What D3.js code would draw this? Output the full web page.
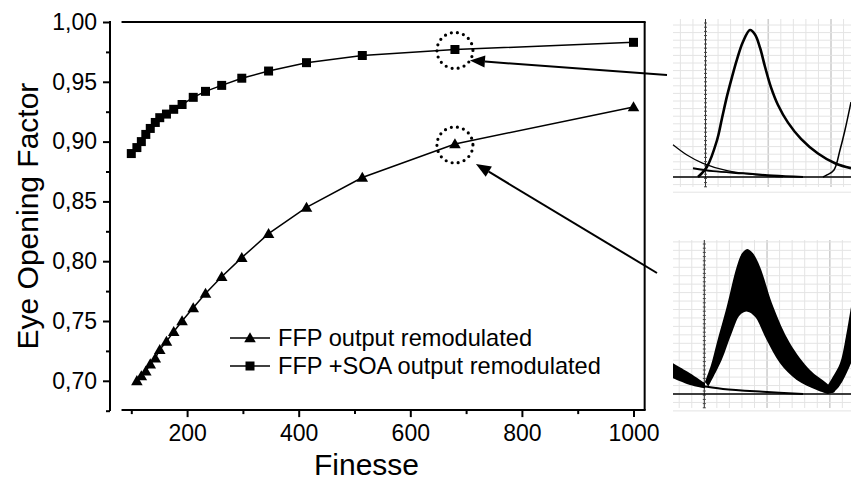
<!DOCTYPE html>
<html><head><meta charset="utf-8">
<script src="https://cdn.jsdelivr.net/npm/d3@7"></script>
<style>
body{margin:0;background:#fff}
svg{display:block}
text{font-family:Arial,"Liberation Sans",Helvetica,sans-serif;fill:#000}
</style>
</head><body>
<svg id="chart" width="851" height="482"></svg>
<script>
// ---------- data ----------
const finesseFFP = [110,118,126,134,143,151,163,176,191,211,233,262,298,346,414,514,680,1000];
const eyeFFP     = [0.700,0.704,0.708,0.714,0.719,0.726,0.733,0.741,0.750,0.761,0.773,0.787,0.803,0.823,0.845,0.870,0.898,0.929];
const finesseSOA = [100,110,118,126,134,143,151,163,176,191,211,233,262,298,346,414,514,680,1000];
const eyeSOA     = [0.890,0.895,0.900,0.906,0.911,0.916,0.920,0.923,0.927,0.931,0.937,0.942,0.947,0.953,0.959,0.966,0.972,0.977,0.983];
const xTicks = [200,400,600,800,1000];
const xMinorTicks = [100,300,500,700,900];
const yTicks = [0.70,0.75,0.80,0.85,0.90,0.95,1.00];
const yMinorTicks = [0.675,0.725,0.775,0.825,0.875,0.925,0.975];
const seriesNames = ["FFP output remodulated","FFP +SOA output remodulated"];
const xTitle = "Finesse";
const yTitle = "Eye Opening Factor";
const highlightFinesse = 680;

// eye-diagram inset shapes (local time units 0..178, amplitude 0..1)
const upperPulse = [[25,0],[34,0.07],[44,0.25],[49,0.4],[54,0.55],[59,0.68],[64,0.8],[70,0.92],[77,1.0],[82,0.97],[87,0.88],[92,0.75],[98,0.61],[105,0.49],[115,0.37],[128,0.26],[145,0.16],[163,0.09],[178,0.06]];
const upperTail  = [[0,0.22],[14,0.15],[30,0.093],[54,0.043],[84,0.014],[110,0.0]];
const upperNext  = [[150,0.0],[154,0.014],[161,0.048],[167,0.184],[172,0.32],[178,0.51]];
const upperFloor = [[20,0.06],[40,0.04],[70,0.025],[100,0.01],[130,0.0]];
const lowerOuter = [[32,0.085],[38,0.2],[43.7,0.35],[53.7,0.602],[63.7,0.878],[69,0.97],[74.3,1.0],[80,0.97],[87,0.878],[100.3,0.602],[117,0.35],[137,0.166],[153.7,0.074],[162,0.014]];
const lowerInner = [[35.3,0.05],[48.7,0.234],[58.7,0.419],[67,0.545],[74.3,0.568],[82,0.533],[93.7,0.372],[107,0.212],[123.7,0.097],[143.7,0.028],[155,0.0]];
const lowerTailTop = [[0,0.212],[17,0.143],[32,0.074]];
const lowerTailBot = [[0,0.108],[17,0.062],[32,0.039]];
const lowerNextOuter = [[150,0.02],[153.7,0.05],[160,0.12],[167,0.212],[172,0.36],[178,0.6]];
const lowerNextInner = [[178,0.212],[172,0.12],[166,0.05],[160,0.007]];
const lowerFloor = [[25,0.06],[50,0.035],[90,0.015],[130,0.0]];

// ---------- layout ----------
const svg = d3.select("#chart");
const x = d3.scaleLinear().domain([0,1000]).range([75.5,633.5]);
const y = d3.scaleLinear().domain([0.70,1.00]).range([380.8,22]);
const boxL = x(82.5), boxR = x(1020), boxT = y(1.0), boxB = y(0.6755);
const axisX = 110;

// frame
const frame = svg.append("g").attr("stroke","#000").attr("stroke-width",2).attr("fill","none");
frame.append("line").attr("x1",boxL).attr("x2",boxR+1).attr("y1",boxT).attr("y2",boxT);
frame.append("line").attr("x1",boxR).attr("x2",boxR).attr("y1",boxT).attr("y2",boxB);
frame.append("line").attr("x1",boxL).attr("x2",boxR+1).attr("y1",boxB).attr("y2",boxB);
frame.append("line").attr("x1",axisX).attr("x2",axisX).attr("y1",boxT-1).attr("y2",boxB+1);

// x axis
const gx = svg.append("g").attr("transform",`translate(0,${boxB})`)
  .call(d3.axisBottom(x).tickValues(xTicks).tickSize(7).tickPadding(8).tickFormat(d3.format("d")));
gx.select(".domain").remove();
gx.selectAll("line").attr("stroke-width",2);
gx.selectAll("text").attr("font-size",23).attr("font-family","Arial, 'Liberation Sans', sans-serif");
const gxm = svg.append("g").attr("transform",`translate(0,${boxB})`)
  .call(d3.axisBottom(x).tickValues(xMinorTicks).tickSize(4).tickFormat(""));
gxm.select(".domain").remove();
gxm.selectAll("line").attr("stroke-width",2);

// y axis
const gy = svg.append("g").attr("transform",`translate(${axisX},0)`)
  .call(d3.axisLeft(y).tickValues(yTicks).tickSize(7).tickPadding(6).tickFormat(d => d.toFixed(2).replace(".",",")));
gy.select(".domain").remove();
gy.selectAll("line").attr("stroke-width",2);
gy.selectAll("text").attr("font-size",23).attr("font-family","Arial, 'Liberation Sans', sans-serif");
const gym = svg.append("g").attr("transform",`translate(${axisX},0)`)
  .call(d3.axisLeft(y).tickValues(yMinorTicks).tickSize(4).tickFormat(""));
gym.select(".domain").remove();
gym.selectAll("line").attr("stroke-width",2);

// titles
svg.append("text").attr("x",366.5).attr("y",475).attr("text-anchor","middle")
  .attr("font-size",30).text(xTitle);
svg.append("text").attr("transform",`translate(38,${(boxT+boxB)/2}) rotate(-90)`)
  .attr("text-anchor","middle").attr("font-size",30).text(yTitle);

// series
const line = d3.line().x(d => x(d[0])).y(d => y(d[1]));
const dFFP = finesseFFP.map((f,i) => [f, eyeFFP[i]]);
const dSOA = finesseSOA.map((f,i) => [f, eyeSOA[i]]);
const tri = d3.symbol().type(d3.symbolTriangle).size(58);
const sq = d3.symbol().type(d3.symbolSquare).size(81);
svg.append("path").datum(dFFP).attr("d",line).attr("fill","none").attr("stroke","#000").attr("stroke-width",1.5);
svg.append("path").datum(dSOA).attr("d",line).attr("fill","none").attr("stroke","#000").attr("stroke-width",1.5);
svg.append("g").selectAll("path").data(dFFP).join("path")
  .attr("transform",d => `translate(${x(d[0])},${y(d[1])+1})`).attr("d",tri).attr("fill","#000");
svg.append("g").selectAll("path").data(dSOA).join("path")
  .attr("transform",d => `translate(${x(d[0])},${y(d[1])})`).attr("d",sq).attr("fill","#000");

// legend
const legY = [338,366];
const leg = svg.append("g");
[tri, sq].forEach((sym,i) => {
  leg.append("line").attr("x1",230).attr("x2",270).attr("y1",legY[i]).attr("y2",legY[i]).attr("stroke","#000").attr("stroke-width",1.5);
  leg.append("path").attr("transform",`translate(250,${legY[i]+(i===0?1:0)})`).attr("d",sym).attr("fill","#000");
  leg.append("text").attr("x",278).attr("y",legY[i]).attr("dy","0.36em").attr("font-size",23.6).text(seriesNames[i]);
});

// highlight circles + arrows
const hiFFP = dFFP.find(d => d[0]===highlightFinesse);
const hiSOA = dSOA.find(d => d[0]===highlightFinesse);
[hiSOA, hiFFP].forEach(d => {
  svg.append("circle").attr("cx",x(d[0])).attr("cy",y(d[1])+1).attr("r",18)
    .attr("fill","none").attr("stroke","#000").attr("stroke-width",3.2)
    .attr("stroke-linecap","round").attr("stroke-dasharray","0 6.2");
});
function arrow(x1,y1,x2,y2){
  const a = Math.atan2(y2-y1,x2-x1), L=15, W=6;
  const bx = x2 - L*Math.cos(a), by = y2 - L*Math.sin(a);
  svg.append("line").attr("x1",x1).attr("y1",y1).attr("x2",bx).attr("y2",by).attr("stroke","#000").attr("stroke-width",2);
  svg.append("path").attr("d",`M${x2},${y2}L${bx+W*Math.sin(a)},${by-W*Math.cos(a)}L${bx-W*Math.sin(a)},${by+W*Math.cos(a)}Z`).attr("fill","#000");
}
arrow(667,75, x(hiSOA[0])+15, y(hiSOA[1])+11);
arrow(657,273, x(hiFFP[0])+21, y(hiFFP[1])+20);

// ---------- eye-diagram insets ----------
function inset(top, bottom, base, peak, axisPos, hStep, draw){
  const g = svg.append("g");
  const left = 673, right = 851;
  const ix = d3.scaleLinear().domain([0,178]).range([left,right]);
  const iy = d3.scaleLinear().domain([0,1]).range([base,peak]);
  for(let k = -2; k <= 11; k++){
    const gxp = axisPos + k*12.55;
    const dark = (k === 5 || k === 10);
    g.append("line").attr("x1",gxp).attr("x2",gxp).attr("y1",top).attr("y2",bottom)
      .attr("stroke",dark ? "#cfcfcf" : "#e4e4e4").attr("stroke-width",dark ? 1.6 : 1);
  }
  for(let gyp = base + 2*hStep; gyp >= top; gyp -= hStep){
    g.append("line").attr("x1",left).attr("x2",right).attr("y1",gyp).attr("y2",gyp).attr("stroke","#e4e4e4").attr("stroke-width",1);
  }
  g.append("line").attr("x1",axisPos).attr("x2",axisPos).attr("y1",top).attr("y2",bottom).attr("stroke","#333").attr("stroke-width",1);
  for(let t = top+4; t < bottom; t += 4.2){
    g.append("line").attr("x1",axisPos-1.5).attr("x2",axisPos+1.5).attr("y1",t).attr("y2",t).attr("stroke","#444").attr("stroke-width",1);
  }
  g.append("line").attr("x1",left).attr("x2",right).attr("y1",base).attr("y2",base).attr("stroke","#000").attr("stroke-width",1.5);
  draw(g, ix, iy);
}
const curve = (ix,iy) => d3.line().x(d => ix(d[0])).y(d => iy(d[1])).curve(d3.curveCatmullRom);

inset(19, 187, 177, 30, 705.5, 7.6, (g, ix, iy) => {
  const c = curve(ix,iy);
  g.append("path").attr("d",c(upperPulse)).attr("fill","none").attr("stroke","#000").attr("stroke-width",2.6);
  g.append("path").attr("d",c(upperTail)).attr("fill","none").attr("stroke","#000").attr("stroke-width",1.2);
  g.append("path").attr("d",c(upperNext)).attr("fill","none").attr("stroke","#000").attr("stroke-width",1.5);
  g.append("path").attr("d",c(upperFloor)).attr("fill","none").attr("stroke","#000").attr("stroke-width",2);
});

inset(240, 408, 394, 249, 704.3, 8.45, (g, ix, iy) => {
  const c = curve(ix,iy);
  const band = (outer, inner) => c(outer) + "L" + c(inner).slice(1) + "Z";
  g.append("path").attr("d",band(lowerOuter, lowerInner.slice().reverse())).attr("fill","#000");
  g.append("path").attr("d",band(lowerTailTop, lowerTailBot.slice().reverse())).attr("fill","#000");
  g.append("path").attr("d",band(lowerNextOuter, lowerNextInner)).attr("fill","#000");
  g.append("path").attr("d",c(lowerFloor)).attr("fill","none").attr("stroke","#000").attr("stroke-width",2);
});
</script>
</body></html>
